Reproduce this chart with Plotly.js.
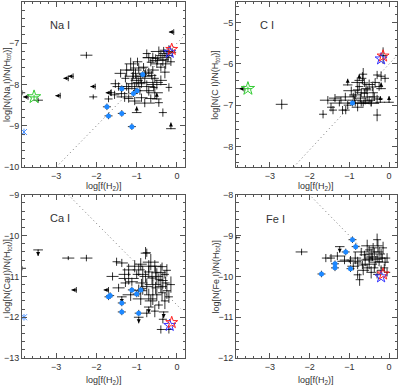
<!DOCTYPE html>
<html><head><meta charset="utf-8">
<script src="https://cdn.plot.ly/plotly-3.0.1.min.js"></script>
<style>html,body{margin:0;padding:0;background:#fff}#c{width:400px;height:385px}</style>
</head><body><div id="c"></div>
<script>
// ---------- Na I ----------
const naX  = [-2.25,-3.45,-2.08,-3.85,-1.08,-0.75,-0.40,-0.33,-0.50,-0.28,-0.65,-1.15,-1.40,-1.28,-1.03,-0.78,-0.70,-0.63,-0.95,-0.88,-1.12,-1.53,-1.63,-1.38,-1.20,-0.88,-0.65,-0.45,-0.70,-0.58,-0.20,-0.53,-0.83,-0.40,-0.35,-0.20,-0.55,-0.98,-0.25,-0.92,-1.25,
  -0.45,-0.30,-0.22,-0.12,-0.60,-0.35,-0.48,-0.70,-0.15,-0.80,-0.90,-1.00,-1.10,-0.60,-0.75,-1.05,-1.20,-1.45,-1.55,-1.30,-1.05,-0.80,-0.55,-0.40,-0.30,-0.95,-0.60,-1.25,-1.70,-0.50];
const naY  = [-7.29,-8.38,-8.30,-8.20,-7.65,-7.25,-7.30,-7.17,-7.50,-7.50,-7.46,-7.50,-7.73,-7.85,-7.73,-7.73,-7.70,-7.78,-7.95,-7.98,-7.98,-7.98,-8.20,-8.22,-8.34,-8.32,-8.34,-8.44,-8.15,-8.07,-8.07,-7.37,-7.58,-7.58,-8.68,-7.20,-7.85,-7.45,-7.35,-8.15,-8.05,
  -7.20,-7.25,-7.30,-7.22,-7.35,-7.40,-7.42,-7.35,-7.45,-7.80,-7.85,-7.90,-7.80,-7.95,-8.05,-8.05,-8.10,-8.05,-8.25,-8.30,-8.40,-8.45,-8.20,-7.90,-7.70,-7.60,-7.65,-7.65,-8.35,-8.00];
const naEx = [0.15,0.12,0.10,0.08,0.20,0.10,0.12,0.10,0.15,0.12,0.10,0.15,0.15,0.10,0.12,0.15,0.10,0.12,0.15,0.10,0.15,0.12,0.10,0.15,0.12,0.15,0.15,0.10,0.12,0.10,0.08,0.10,0.12,0.10,0.10,0.10,0.10,0.12,0.10,0.10,0.10,
  0.20,0.15,0.12,0.10,0.25,0.15,0.20,0.15,0.10,0.20,0.25,0.15,0.20,0.25,0.20,0.15,0.20,0.15,0.12,0.20,0.15,0.25,0.20,0.15,0.12,0.20,0.15,0.15,0.10,0.25];
const naEy = [0.08,0.06,0.06,0.06,0.20,0.10,0.10,0.08,0.10,0.12,0.10,0.15,0.10,0.10,0.12,0.10,0.10,0.10,0.12,0.10,0.12,0.10,0.08,0.10,0.10,0.10,0.10,0.10,0.12,0.10,0.10,0.10,0.10,0.10,0.10,0.15,0.10,0.10,0.12,0.10,0.10,
  0.12,0.10,0.15,0.10,0.12,0.15,0.10,0.12,0.10,0.15,0.12,0.15,0.10,0.12,0.15,0.10,0.12,0.10,0.10,0.12,0.10,0.10,0.15,0.12,0.15,0.12,0.10,0.15,0.08,0.12];
const naBlueX = [-0.85,-1.37,-1.08,-0.99,-1.74,-1.70,-1.37,-1.12];
const naBlueY = [-7.76,-8.10,-8.22,-8.15,-8.54,-8.76,-8.70,-9.02];
const naUpX = [-0.50,-1.00,-0.15];
const naUpY = [-8.35,-8.68,-9.07];
const naLeftX = [-2.70,-2.58,-2.90,-2.03,-3.70,-0.08,-1.65];
const naLeftY = [-7.85,-7.80,-8.27,-8.05,-8.30,-6.73,-8.20];
const naStar = [-0.15,-7.17];
const naGreen = [-3.55,-8.30];
const naCyan = [-3.80,-9.15];
const naLine = [[-3.0,0.15],[-10.0,-6.85]];

// ---------- C I ----------
const cX  = [-2.70,-1.66,-1.41,-1.09,-0.30,-1.54,-0.15,-0.10,-0.67,-0.30,-0.79,-0.62,-0.72,-0.50,-0.87,-1.21,-1.36,-1.04,-0.37,-1.46,-1.17,-0.55,-0.42,-0.62,-0.79,-0.45,-0.65,-0.90,
  -0.85,-0.70,-0.55,-0.40,-0.60,-0.75,-0.50,-0.35,-0.25,-0.65,-0.80,-0.95,-1.10,-0.45,-0.70,-0.58,-0.85,-1.25,-0.30,-0.20];
const cY  = [-6.98,-7.22,-7.12,-7.12,-7.24,-6.88,-5.80,-6.35,-6.35,-6.27,-6.63,-6.71,-6.83,-6.88,-6.88,-6.88,-6.83,-7.00,-6.80,-7.05,-7.12,-6.63,-6.56,-6.46,-7.05,-6.95,-6.95,-6.78,
  -6.75,-6.95,-6.80,-6.70,-6.90,-6.55,-6.50,-6.45,-6.55,-6.25,-6.45,-6.65,-6.80,-6.95,-6.70,-6.60,-6.95,-6.95,-6.85,-6.30];
const cEx = [0.15,0.10,0.10,0.10,0.10,0.20,0.10,0.10,0.10,0.10,0.12,0.10,0.15,0.15,0.15,0.20,0.15,0.10,0.12,0.10,0.10,0.10,0.10,0.10,0.15,0.20,0.15,0.10,
  0.15,0.20,0.15,0.12,0.20,0.10,0.15,0.12,0.10,0.10,0.15,0.20,0.25,0.20,0.15,0.12,0.20,0.25,0.15,0.10];
const cEy = [0.12,0.10,0.10,0.10,0.15,0.10,0.20,0.10,0.15,0.10,0.10,0.10,0.10,0.10,0.08,0.08,0.10,0.10,0.10,0.10,0.10,0.10,0.10,0.10,0.10,0.08,0.08,0.08,
  0.10,0.08,0.10,0.12,0.08,0.10,0.12,0.10,0.10,0.15,0.12,0.10,0.10,0.08,0.10,0.12,0.08,0.08,0.10,0.12];
const cBlueX = [-0.92];
const cBlueY = [-6.95];
const cUpX = [-1.04,-0.75,0.00,-0.22,-0.20];
const cUpY = [-6.51,-6.40,-6.93,-6.93,-6.60];
const cLeftX = [-3.65];
const cLeftY = [-6.60];
const cStar = [-0.17,-5.83];
const cGreen = [-3.55,-6.60];
const cLine = [[-2.4,0.15],[-8.5,-5.85]];

// ---------- Ca I ----------
const caX  = [-2.70,-2.25,-3.85,-0.78,-0.40,-0.20,-0.75,-1.37,-1.50,-1.20,-0.95,-0.70,-0.53,-0.37,-0.78,-0.62,-0.45,-0.28,-0.88,-1.12,-1.28,-0.53,-0.37,-0.20,-0.70,-1.45,-0.45,-0.75,-1.00,-0.85,-0.60,-0.30,
  -0.90,-0.65,-0.55,-0.40,-0.25,-1.05,-0.85,-0.60,-0.40,-0.25,-0.95,-0.75,-0.50,-0.30,-0.65,-0.55,-0.35,-1.15,-1.30,-0.15,-0.70,-0.50,-0.35,-0.90,-1.20,-1.60];
const caY  = [-10.55,-10.55,-10.80,-10.43,-12.30,-12.30,-10.42,-10.67,-10.64,-10.84,-10.84,-10.89,-10.91,-10.76,-11.00,-11.04,-11.08,-11.16,-11.16,-11.13,-11.16,-11.28,-11.40,-11.50,-11.45,-11.28,-11.70,-11.90,-10.95,-11.30,-11.55,-10.95,
  -10.70,-10.65,-10.75,-10.90,-10.85,-10.75,-10.95,-11.20,-11.25,-11.35,-11.35,-11.25,-11.45,-11.60,-11.60,-11.85,-12.05,-11.45,-10.95,-11.20,-10.75,-11.00,-11.10,-11.55,-11.05,-11.00];
const caEx = [0.15,0.15,0.10,0.12,0.10,0.10,0.10,0.15,0.10,0.15,0.15,0.12,0.10,0.12,0.15,0.12,0.10,0.10,0.15,0.15,0.12,0.10,0.10,0.10,0.12,0.15,0.10,0.10,0.10,0.10,0.10,0.10,
  0.15,0.20,0.15,0.12,0.10,0.20,0.15,0.20,0.15,0.10,0.20,0.15,0.12,0.10,0.15,0.10,0.10,0.20,0.15,0.10,0.20,0.15,0.12,0.20,0.25,0.15];
const caEy = [0.05,0.08,0.05,0.15,0.10,0.10,0.10,0.10,0.10,0.15,0.15,0.15,0.15,0.10,0.15,0.15,0.15,0.15,0.10,0.10,0.10,0.15,0.20,0.15,0.15,0.10,0.10,0.10,0.10,0.15,0.15,0.10,
  0.15,0.20,0.15,0.20,0.15,0.15,0.20,0.20,0.15,0.20,0.15,0.20,0.15,0.20,0.15,0.15,0.10,0.15,0.15,0.20,0.15,0.20,0.20,0.15,0.15,0.10];
const caBlueX = [-1.70,-1.66,-1.37,-1.37,-0.95,-1.12,-1.00,-0.90];
const caBlueY = [-11.50,-11.47,-11.65,-11.87,-11.90,-11.33,-11.43,-11.33];
const caDownX = [-3.45,-1.37,-0.33,-0.70,-0.95];
const caDownY = [-10.35,-11.50,-11.87,-11.75,-12.00];
const caLeftX = [-2.50,-1.70];
const caLeftY = [-11.33,-11.33];
const caStar = [-0.15,-12.15];
const caCyan = [-3.80,-12.00];
const caLine = [[-2.7,0.1],[-9.0,-11.8]];

// ---------- Fe I ----------
const feX  = [-3.85,-2.20,-1.46,-1.59,-1.12,-0.79,-0.79,-0.62,-0.50,-0.42,-0.30,-0.25,-0.17,-0.37,-0.55,-0.67,-0.37,-0.50,-0.25,-0.74,-0.12,-0.97,-0.05,-0.42,-1.00,
  -0.60,-0.45,-0.30,-0.35,-0.20,-0.10,-0.55,-0.40,-0.70,-0.85,-0.65,-0.45,-0.30,-0.20,-1.30,-0.15,-0.05,-0.90,-0.50,-0.28];
const feY  = [-9.05,-9.40,-9.55,-9.55,-9.60,-9.67,-9.96,-9.47,-9.55,-9.52,-9.10,-9.40,-9.55,-9.79,-9.79,-9.72,-9.40,-9.35,-9.64,-10.08,-9.79,-9.60,-9.90,-9.58,-9.63,
  -9.60,-9.45,-9.55,-9.65,-9.45,-9.65,-9.25,-9.30,-9.40,-9.55,-9.85,-9.90,-9.95,-9.85,-9.50,-9.30,-9.55,-9.75,-9.70,-9.25];
const feEx = [0.10,0.15,0.10,0.10,0.12,0.10,0.10,0.12,0.10,0.15,0.10,0.10,0.10,0.10,0.10,0.12,0.10,0.10,0.10,0.10,0.10,0.10,0.08,0.25,0.30,
  0.20,0.15,0.20,0.15,0.10,0.10,0.15,0.12,0.20,0.15,0.15,0.12,0.10,0.10,0.20,0.10,0.08,0.15,0.20,0.12];
const feEy = [0.05,0.08,0.10,0.10,0.10,0.15,0.10,0.10,0.10,0.10,0.15,0.12,0.10,0.10,0.10,0.10,0.10,0.10,0.10,0.15,0.10,0.10,0.10,0.03,0.03,
  0.15,0.12,0.10,0.15,0.12,0.10,0.15,0.12,0.10,0.15,0.12,0.15,0.10,0.12,0.10,0.15,0.12,0.10,0.12,0.15];
const feBlueX = [-1.70,-1.36,-1.36,-0.97,-1.09,-0.92,-0.84];
const feBlueY = [-9.94,-9.69,-9.79,-9.81,-9.40,-9.10,-9.27];
const feDownX = [-1.24];
const feDownY = [-9.27];
const feStar = [-0.17,-9.96];
const feLine = [[-1.95,-0.05],[-8.05,-9.95]];

// ---------- build ----------
const FONT = 'Liberation Sans, Arial, sans-serif';
const ERRC = 'rgba(0,0,0,0.8)';
const traces = [];
function suf(i){ return i===1 ? '' : String(i); }
function crosses(i, X, Y, EX, EY){
  traces.push({type:'scatter', mode:'markers', x:X, y:Y, xaxis:'x'+suf(i), yaxis:'y'+suf(i),
    marker:{size:1, color:'#000'},
    error_x:{type:'data', array:EX, color:ERRC, thickness:1, width:0},
    error_y:{type:'data', array:EY, color:ERRC, thickness:1, width:0}, hoverinfo:'skip'});
}
function blue(i, X, Y){
  traces.push({type:'scatter', mode:'markers', x:X, y:Y, xaxis:'x'+suf(i), yaxis:'y'+suf(i),
    marker:{size:5, color:'#1e88ff', symbol:'circle'},
    error_x:{type:'constant', value:0.1, color:ERRC, thickness:1, width:0},
    error_y:{type:'constant', value:0.08, color:ERRC, thickness:1, width:0}});
}
function vlim(i, X, Y, dir){ // dir +1 up (lower limit), -1 down (upper limit)
  const stem = 0.15;
  traces.push({type:'scatter', mode:'markers', x:X, y:Y, xaxis:'x'+suf(i), yaxis:'y'+suf(i),
    marker:{size:1, color:'#000'},
    error_x:{type:'constant', value:0.12, color:ERRC, thickness:1, width:0},
    error_y:{type:'data', symmetric:false, array:Y.map(()=>dir>0?stem:0), arrayminus:Y.map(()=>dir>0?0:stem), color:ERRC, thickness:1, width:0}});
  traces.push({type:'scatter', mode:'markers', x:X, y:Y.map(v=>v+dir*stem), xaxis:'x'+suf(i), yaxis:'y'+suf(i),
    marker:{size:4, color:'#000', symbol: dir>0?'arrow-up':'arrow-down'}});
}
function hlim(i, X, Y){ // arrow to the left
  const stem = 0.12;
  traces.push({type:'scatter', mode:'markers', x:X, y:Y, xaxis:'x'+suf(i), yaxis:'y'+suf(i),
    marker:{size:1, color:'#000'},
    error_y:{type:'constant', value:0.07, color:ERRC, thickness:1, width:0},
    error_x:{type:'data', symmetric:false, array:X.map(()=>0), arrayminus:X.map(()=>stem), color:ERRC, thickness:1, width:0}});
  traces.push({type:'scatter', mode:'markers', x:X.map(v=>v-stem), y:Y, xaxis:'x'+suf(i), yaxis:'y'+suf(i),
    marker:{size:4, color:'#000', symbol:'arrow-left'}});
}
function stars(i, P){
  traces.push({type:'scatter', mode:'markers', x:[P[0]-0.03], y:[P[1]-0.05], xaxis:'x'+suf(i), yaxis:'y'+suf(i),
    marker:{size:9, color:'#3333ff', symbol:'star-open', line:{width:1}}});
  traces.push({type:'scatter', mode:'markers', x:[P[0]+0.02], y:[P[1]+0.02], xaxis:'x'+suf(i), yaxis:'y'+suf(i),
    marker:{size:9, color:'#ff2222', symbol:'star-open', line:{width:1}}});
}
function green(i, P){
  traces.push({type:'scatter', mode:'markers', x:[P[0]], y:[P[1]], xaxis:'x'+suf(i), yaxis:'y'+suf(i),
    marker:{size:10, color:'#33cc33', symbol:'star-open', line:{width:1}},
    error_x:{type:'constant', value:0.1, color:'#33cc33', thickness:1, width:0},
    error_y:{type:'constant', value:0.05, color:'#33cc33', thickness:1, width:0}});
}
function cyan(i, P){
  traces.push({type:'scatter', mode:'markers', x:[P[0]], y:[P[1]], xaxis:'x'+suf(i), yaxis:'y'+suf(i),
    marker:{size:6, color:'#4a90ff', symbol:'x-thin-open', line:{width:1, color:'#4a90ff'}},
    error_y:{type:'constant', value:0.08, color:'#4a90ff', thickness:1, width:0}});
}
function dline(i, L){
  traces.push({type:'scatter', mode:'lines', x:L[0], y:L[1], xaxis:'x'+suf(i), yaxis:'y'+suf(i),
    line:{color:'#777', width:1, dash:'1px,3px'}, hoverinfo:'skip'});
}

dline(1, naLine); crosses(1, naX, naY, naEx, naEy); vlim(1, naUpX, naUpY, 1); hlim(1, naLeftX, naLeftY);
blue(1, naBlueX, naBlueY); stars(1, naStar); green(1, naGreen); cyan(1, naCyan);
dline(2, cLine); crosses(2, cX, cY, cEx, cEy); vlim(2, cUpX, cUpY, 1); hlim(2, cLeftX, cLeftY);
blue(2, cBlueX, cBlueY); stars(2, cStar); green(2, cGreen);
dline(3, caLine); crosses(3, caX, caY, caEx, caEy); vlim(3, caDownX, caDownY, -1); hlim(3, caLeftX, caLeftY);
blue(3, caBlueX, caBlueY); stars(3, caStar); cyan(3, caCyan);
dline(4, feLine); crosses(4, feX, feY, feEx, feEy); vlim(4, feDownX, feDownY, -1);
blue(4, feBlueX, feBlueY); stars(4, feStar);

const xr = [-3.85, 0.2];
function xax(dom, anchor){
  return {domain:dom, anchor:anchor, range:xr, tickvals:[-3,-2,-1,0], ticks:'inside', ticklen:5,
    showline:true, mirror:'allticks', linecolor:'#555', tickcolor:'#555', linewidth:1, zeroline:false, showgrid:false,
    tickfont:{family:FONT, size:9, color:'#333'},
    minor:{ticks:'inside', ticklen:2.5, dtick:0.2, tickcolor:'#555', showgrid:false}};
}
function yax(dom, anchor, r){
  return {domain:dom, anchor:anchor, range:r, dtick:1, ticks:'inside', ticklen:5,
    showline:true, mirror:'allticks', linecolor:'#555', tickcolor:'#555', linewidth:1, zeroline:false, showgrid:false,
    tickfont:{family:FONT, size:9, color:'#333'},
    minor:{ticks:'inside', ticklen:2.5, dtick:0.2, tickcolor:'#555', showgrid:false}};
}
const dl = [0.055, 0.4625], dr = [0.59, 0.9925], dt = [0.566, 0.995], db = [0.07, 0.494];

const titleFont = {family:FONT, size:9, color:'#333'};
const labFont = {family:FONT, size:11, color:'#333'};
const ann = [];
function ytitle(x, y, t){ ann.push({xref:'paper', yref:'paper', x:x, y:y, text:t, textangle:-90, showarrow:false, font:titleFont, xanchor:'center', yanchor:'middle'}); }
function xtitle(x, y, t){ ann.push({xref:'paper', yref:'paper', x:x, y:y, text:t, showarrow:false, font:titleFont, xanchor:'center', yanchor:'middle'}); }
function lab(i, x, y, t){ ann.push({xref:'x'+suf(i), yref:'y'+suf(i), x:x, y:y, text:t, showarrow:false, font:labFont, xanchor:'left', yanchor:'middle'}); }

ytitle(0.018, 0.78, 'log[N(Na I)/N(H<sub>tot</sub>)]');
ytitle(0.54, 0.78, 'log[N(C I)/N(H<sub>tot</sub>)]');
ytitle(0.018, 0.282, 'log[N(Ca I)/N(H<sub>tot</sub>)]');
ytitle(0.54, 0.282, 'log[N(Fe I)/N(H<sub>tot</sub>)]');
xtitle(0.259, 0.515, 'log[f(H<sub>2</sub>)]');
xtitle(0.79, 0.515, 'log[f(H<sub>2</sub>)]');
xtitle(0.259, 0.012, 'log[f(H<sub>2</sub>)]');
xtitle(0.79, 0.012, 'log[f(H<sub>2</sub>)]');
lab(1, -3.2, -6.56, 'Na I');
lab(2, -3.3, -5.07, 'C I');
lab(3, -3.2, -9.57, 'Ca I');
lab(4, -3.15, -8.6, 'Fe I');

const layout = {
  width:400, height:385, margin:{l:0, r:0, t:0, b:0}, showlegend:false,
  paper_bgcolor:'#fff', plot_bgcolor:'#fff',
  xaxis:xax(dl,'y'), yaxis:yax(dt,'x',[-10,-6]),
  xaxis2:xax(dr,'y2'), yaxis2:yax(dt,'x2',[-8.5,-4.5]),
  xaxis3:xax(dl,'y3'), yaxis3:yax(db,'x3',[-13,-9]),
  xaxis4:xax(dr,'y4'), yaxis4:yax(db,'x4',[-12,-8]),
  annotations:ann
};
Plotly.newPlot('c', traces, layout, {staticPlot:true, displayModeBar:false});
</script></body></html>
